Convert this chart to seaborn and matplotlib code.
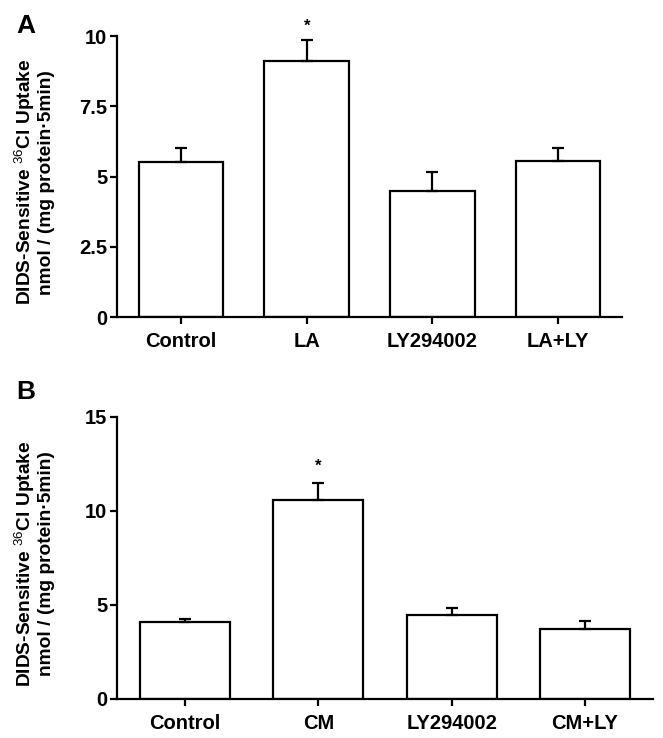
import matplotlib
matplotlib.use("Agg")
import matplotlib.pyplot as plt
import seaborn as sns
import numpy as np
import pandas as pd

# ---- data ----
cats_a = ["Control", "LA", "LY294002", "LA+LY"]
vals_a = [5.50, 9.10, 4.48, 5.55]
err_a = [0.50, 0.75, 0.69, 0.45]
sig_a = [False, True, False, False]

cats_b = ["Control", "CM", "LY294002", "CM+LY"]
vals_b = [4.10, 10.60, 4.47, 3.74]
err_b = [0.16, 0.89, 0.37, 0.39]
sig_b = [False, True, False, False]

yticks_a = [0, 2.5, 5, 7.5, 10]
yticklabels_a = ["0", "2.5", "5", "7.5", "10"]
yticks_b = [0, 5, 10, 15]
yticklabels_b = ["0", "5", "10", "15"]

ylabel = "DIDS-Sensitive $^{\\mathrm{36}}$Cl Uptake\nnmol / (mg protein\u00b75min)"

sns.set_theme(style="ticks")
plt.rcParams["font.family"] = ["Liberation Sans", "DejaVu Sans"]
plt.rcParams["mathtext.fontset"] = "custom"
plt.rcParams["mathtext.rm"] = "Liberation Sans"
plt.rcParams["mathtext.bf"] = "Liberation Sans:bold"
plt.rcParams["text.color"] = "black"
plt.rcParams["axes.labelcolor"] = "black"
plt.rcParams["xtick.color"] = "black"
plt.rcParams["ytick.color"] = "black"

fig = plt.figure(figsize=(6.63, 7.38), dpi=100)
W, H = 663, 738
def rect(l, r, t, b):
    return [l / W, 1 - b / H, (r - l) / W, (b - t) / H]

ax_a = fig.add_axes(rect(117, 622, 36, 317))
ax_b = fig.add_axes(rect(117, 653, 417, 699))

def panel(ax, cats, vals, errs, sig, ymax, yt, ytl, star_off, lab_x, lab_y):
    df = pd.DataFrame({"cat": cats, "val": vals})
    sns.barplot(data=df, x="cat", y="val", ax=ax, color="white",
                edgecolor="black", linewidth=1.6, width=0.675,
                errorbar=None, saturation=1)
    ax.errorbar(cats, vals, yerr=[np.zeros(len(errs)), errs], fmt="none",
                ecolor="black", elinewidth=1.6, capsize=4, capthick=1.6,
                clip_on=False, zorder=5)
    for i, (v, e, s) in enumerate(zip(vals, errs, sig)):
        if s:
            ax.annotate("*", xy=(i, v + e), xytext=(0, star_off),
                        textcoords="offset points", ha="center", va="center",
                        fontsize=12, fontweight="bold", annotation_clip=False)
    ax.set_xlim(-0.51, 3.51)
    ax.set_ylim(0, ymax)
    ax.set_yticks(yt)
    ax.set_yticklabels(ytl)
    ax.set_xlabel("")
    ax.set_ylabel(ylabel, fontsize=13.8, fontweight="bold", linespacing=1.1)
    ax.yaxis.set_label_coords(lab_x, lab_y)
    sns.despine(ax=ax)
    for sp in ["left", "bottom"]:
        ax.spines[sp].set_linewidth(1.6)
        ax.spines[sp].set_color("black")
    ax.tick_params(axis="both", length=5, width=1.6, color="black",
                   labelsize=14.5, direction="out")
    ax.tick_params(axis="x", pad=6)
    ax.tick_params(axis="y", pad=2)
    for lab in ax.get_xticklabels() + ax.get_yticklabels():
        lab.set_fontweight("bold")

panel(ax_a, cats_a, vals_a, err_a, sig_a, 10, yticks_a, yticklabels_a, 10,
      (55 - 117) / 505, 0.48)
panel(ax_b, cats_b, vals_b, err_b, sig_b, 15, yticks_b, yticklabels_b, 12,
      (55 - 117) / 536, 0.48)

fig.text(16 / W, 1 - 26 / H, "A", fontsize=19, fontweight="bold",
         ha="left", va="center")
fig.text(16 / W, 1 - 392 / H, "B", fontsize=19, fontweight="bold",
         ha="left", va="center")

fig.savefig("out.png", dpi=100, facecolor="white")
